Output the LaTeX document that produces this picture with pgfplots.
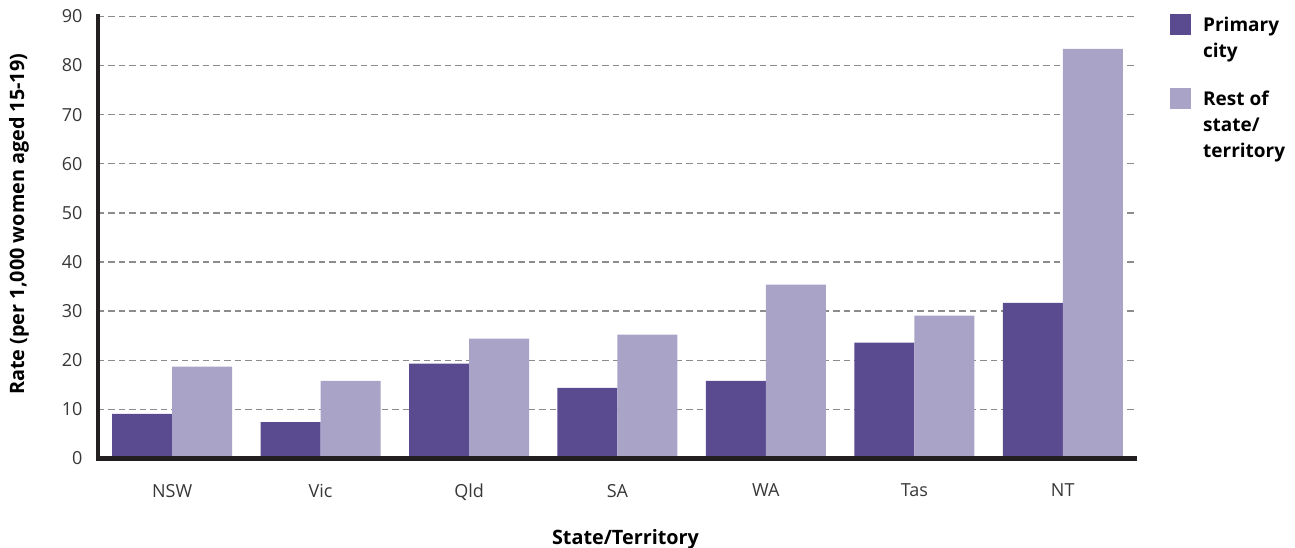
\documentclass[border=0pt]{standalone}
\usepackage{fontspec}
\setmainfont{Open Sans}
\usepackage{pgfplots}
\pgfplotsset{compat=1.18}
\definecolor{cPrim}{RGB}{90,74,144}
\definecolor{cRest}{RGB}{170,163,200}
\definecolor{axisdark}{RGB}{35,31,32}
\definecolor{gridgray}{RGB}{140,140,140}
\definecolor{ticktext}{RGB}{55,55,55}
\begin{document}
\begin{tikzpicture}
\path[use as bounding box] (-98pt,-89.5pt) rectangle (1197pt,458.5pt);
\begin{axis}[
  scale only axis, width=1039pt, height=444.5pt,
  xmin=-0.5, xmax=6.5, ymin=0, ymax=90.5,
  clip=false,
  ybar=0pt, bar width=60pt,
  xtick={0,1,2,3,4,5,6}, xticklabels={NSW,Vic,Qld,SA,WA,Tas,NT},
  ytick={0,10,...,90},
  major tick length=0pt,
  axis line style={draw=none},
  ymajorgrids,
  grid style={gridgray, line width=1.3pt, dash pattern=on 6.5pt off 4pt},
  /pgf/number format/assume math mode=true,
  tick label style={font=\fontsize{18}{22}\selectfont, text=ticktext},
  yticklabel style={anchor=east, xshift=-12pt},
  xticklabel style={anchor=north, yshift=-22pt},
  xlabel={State/Territory},
  ylabel={Rate (per 1,000 women aged 15-19)},
  label style={font=\bfseries\fontsize{19.8}{24}\selectfont, text=black},
  xlabel style={at={(axis description cs:0.5077,-0.181)}, anchor=center},
  ylabel style={at={(axis description cs:-0.076,0.527)}, anchor=center, rotate=0},
]
\addplot[fill=cPrim, draw=none] coordinates {(0,9.1) (1,7.4) (2,19.3) (3,14.4) (4,15.8) (5,23.6) (6,31.7)};
\addplot[fill=cRest, draw=none] coordinates {(0,18.7) (1,15.8) (2,24.4) (3,25.2) (4,35.4) (5,29.1) (6,83.4)};
\draw[axisdark, line width=4.3pt] (axis description cs:0,1) -- (axis description cs:0,0) -- (axis description cs:1,0);
% legend
\fill[cPrim] (axis description cs:1.0318,1.0) rectangle (axis description cs:1.0520,0.9528);
\fill[cRest] (axis description cs:1.0318,0.8335) rectangle (axis description cs:1.0520,0.7863);
\node[anchor=base west, inner sep=0pt, font=\bfseries\fontsize{19}{26}\selectfont]
  at (axis description cs:1.0635,0.9611) {\vtop{\hbox{Primary}\hbox{city}}};
\node[anchor=base west, inner sep=0pt, font=\bfseries\fontsize{19}{26}\selectfont]
  at (axis description cs:1.0635,0.7946) {\vtop{\hbox{Rest of}\hbox{state/}\hbox{territory}}};
\end{axis}
\end{tikzpicture}
\end{document}
